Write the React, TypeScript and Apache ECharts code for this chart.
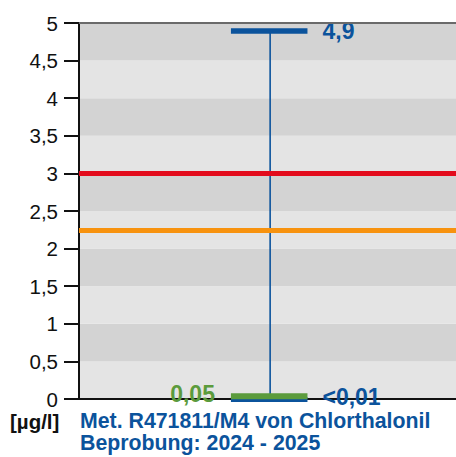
import React, { useEffect, useRef } from "react";
import * as echarts from "echarts";

const yTicks = [0, 0.5, 1, 1.5, 2, 2.5, 3, 3.5, 4, 4.5, 5];
const maxValue = 4.9;
const minValue = 0.01;
const meanValue = 0.05;
const maxLabel = "4,9";
const minLabel = "<0,01";
const meanLabel = "0,05";
const limitRed = 3;
const limitOrange = 2.25;
const unitText = "[µg/l]";
const titleLines = ["Met. R471811/M4 von Chlorthalonil", "Beprobung: 2024 - 2025"];

const BLUE = "#0b539c";
const GREEN = "#5b9b3c";
const FONT = "Liberation Sans, Arial, sans-serif";

export default function App() {
  const ref = useRef<HTMLDivElement>(null);
  useEffect(() => {
    const chart = echarts.init(ref.current!, null, { renderer: "svg" });
    const option: any = {
      animation: false,
      textStyle: { fontFamily: FONT },
      grid: { left: 79, right: 0, top: 23, bottom: 58, containLabel: false },
      title: [
        {
          text: unitText,
          left: 10,
          top: 410,
          padding: 0,
          textStyle: { fontFamily: FONT, fontSize: 20.5, fontWeight: "bold", color: "#111", lineHeight: 22 },
        },
        {
          text: titleLines.join("\n"),
          left: 80,
          top: 410,
          padding: 0,
          textStyle: { fontFamily: FONT, fontSize: 21.3, fontWeight: "bold", color: BLUE, lineHeight: 22 },
        },
      ],
      xAxis: {
        type: "value",
        min: 0,
        max: 1,
        axisLine: { show: true, onZero: false, lineStyle: { color: "#111", width: 2 } },
        axisTick: { show: false },
        axisLabel: { show: false },
        splitLine: { show: false },
      },
      yAxis: {
        type: "value",
        min: yTicks[0],
        max: yTicks[yTicks.length - 1],
        interval: yTicks[1] - yTicks[0],
        axisLine: { show: true, lineStyle: { color: "#111", width: 2 } },
        axisTick: { show: true, length: 15, lineStyle: { color: "#111", width: 2 } },
        axisLabel: {
          margin: 21,
          fontSize: 20.5,
          color: "#111",
          fontFamily: FONT,
          formatter: (v: number) => String(v).replace(".", ","),
        },
        splitLine: { show: false },
        splitArea: { show: true, areaStyle: { color: ["#e4e4e4", "#d3d3d3"] } },
      },
      series: [
        {
          type: "line",
          data: [],
          silent: true,
          markLine: {
            silent: true,
            symbol: "none",
            label: { show: false },
            data: [
              { yAxis: 5, lineStyle: { color: "#6a6a6a", width: 2, type: "solid" } },
              { yAxis: limitRed, lineStyle: { color: "#e30b1c", width: 5, type: "solid" } },
              { yAxis: limitOrange, lineStyle: { color: "#f7920e", width: 5, type: "solid" } },
            ],
          },
        },
        {
          type: "custom",
          silent: true,
          clip: false,
          data: [[0.507, minValue, maxValue, meanValue]],
          renderItem: (params: any, api: any) => {
            const cx = api.value(0);
            const top = api.coord([cx, api.value(2)]);
            const bot = api.coord([cx, 0]);
            const mean = api.coord([cx, api.value(3)]);
            const l = api.coord([0.403, 0])[0];
            const r = api.coord([0.606, 0])[0];
            const txt = (text: string, x: number, y: number, fill: string, align: string) => ({
              type: "text",
              x,
              y,
              style: {
                text,
                fill,
                fontFamily: FONT,
                fontSize: 23,
                fontWeight: "bold",
                align,
                verticalAlign: "middle",
                textAlign: align,
                textVerticalAlign: "middle",
              },
            });
            return {
              type: "group",
              children: [
                { type: "line", shape: { x1: top[0], y1: top[1], x2: bot[0], y2: bot[1] }, style: { stroke: BLUE, lineWidth: 1.6 } },
                { type: "line", shape: { x1: l, y1: top[1] + 0.5, x2: r, y2: top[1] + 0.5 }, style: { stroke: BLUE, lineWidth: 5.5 } },
                { type: "line", shape: { x1: l, y1: bot[1] + 0.5, x2: r, y2: bot[1] + 0.5 }, style: { stroke: BLUE, lineWidth: 5 } },
                { type: "line", shape: { x1: l, y1: mean[1] + 1, x2: r, y2: mean[1] + 1 }, style: { stroke: GREEN, lineWidth: 6 } },
                txt(maxLabel, r + 15, top[1] + 0.5, BLUE, "left"),
                txt(minLabel, r + 15, bot[1] - 2, BLUE, "left"),
                txt(meanLabel, l - 16, mean[1] - 1.5, GREEN, "right"),
              ],
            };
          },
        },
      ],
    };
    chart.setOption(option);
    return () => chart.dispose();
  }, []);
  return <div ref={ref} style={{ width: 456, height: 457, position: "absolute", left: 0, top: 0 }} />;
}
